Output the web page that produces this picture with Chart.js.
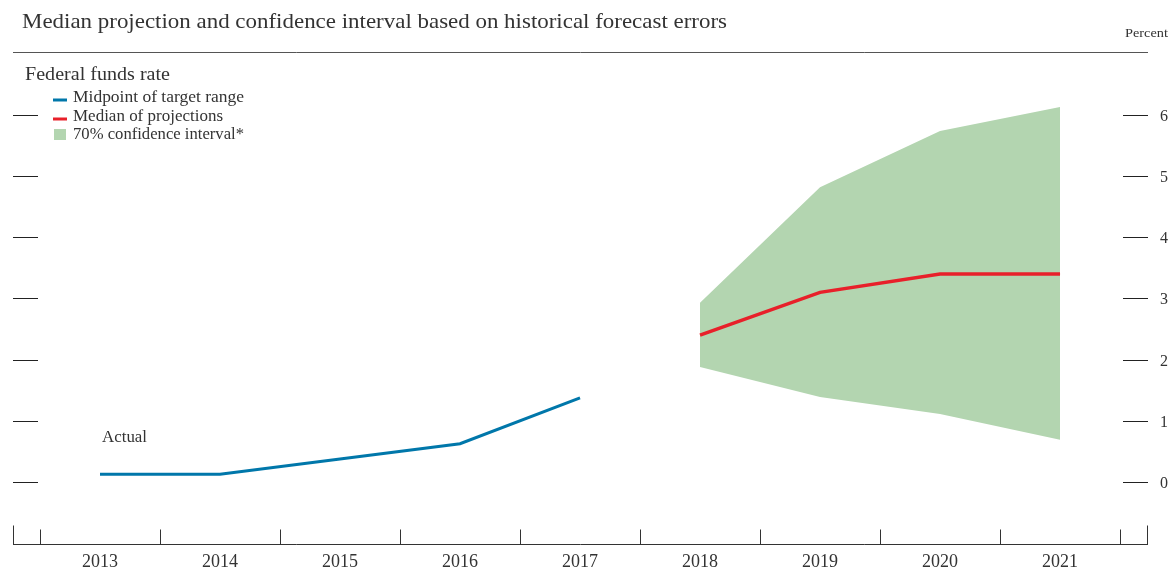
<!DOCTYPE html>
<html>
<head>
<meta charset="utf-8">
<script src="https://cdn.jsdelivr.net/npm/chart.js@4.4.1/dist/chart.umd.min.js"></script>
<style>
html,body{margin:0;padding:0;background:#fff;}
#wrap{width:1170px;height:569px;position:relative;}
</style>
</head>
<body>
<div id="wrap"><canvas id="c" width="1170" height="569"></canvas></div>
<script>
const years = [2013, 2014, 2015, 2016, 2017, 2018, 2019, 2020, 2021];
const actualYears = [2013, 2014, 2015, 2016, 2017];
const actualRate = [0.125, 0.125, 0.375, 0.625, 1.375];
const projYears = [2018, 2019, 2020, 2021];
const medianProj = [2.4, 3.1, 3.4, 3.4];
const ciUpper = [2.93, 4.82, 5.74, 6.13];
const ciLower = [1.88, 1.39, 1.11, 0.69];
const yTicks = [0, 1, 2, 3, 4, 5, 6];

const SERIF = '"Liberation Serif", "DejaVu Serif", serif';
const TXT = '#333';

const pts = (xs, ys) => xs.map((x, i) => ({x: x, y: ys[i]}));

// draw text with font size and horizontal stretch so it spans a target width
function fitText(ctx, text, x, y, size, width, align) {
  ctx.font = size + 'px ' + SERIF;
  const w = ctx.measureText(text).width;
  const s = width ? width / w : 1;
  ctx.save();
  ctx.textAlign = 'left';
  ctx.textBaseline = 'middle';
  let x0 = x;
  if (align === 'center') x0 = x - (w * s) / 2;
  ctx.translate(x0, y + 1);
  ctx.scale(s, 1);
  ctx.fillText(text, 0, 0);
  ctx.restore();
}

const decor = {
  id: 'decor',
  afterDraw(chart) {
    const ctx = chart.ctx;
    const xs = chart.scales.x, ys = chart.scales.y;
    const ca = chart.chartArea;
    ctx.save();
    ctx.fillStyle = TXT;
    fitText(ctx, 'Median projection and confidence interval based on historical forecast errors', 22, 21, 21, 705);
    fitText(ctx, 'Percent', 1125, 33, 12.5, 43);
    // rule
    ctx.strokeStyle = '#555';
    ctx.lineWidth = 1;
    ctx.beginPath(); ctx.moveTo(13, 52.5); ctx.lineTo(1148, 52.5); ctx.stroke();
    fitText(ctx, 'Federal funds rate', 25, 74, 19, 145);
    // legend
    const leg = [
      {t: 'Midpoint of target range', c: '#0077aa', y: 97, k: 'line', w: 171},
      {t: 'Median of projections', c: '#e8202a', y: 116, k: 'line', w: 150},
      {t: '70% confidence interval*', c: '#b3d5b0', y: 134, k: 'box', w: 171}
    ];
    leg.forEach(l => {
      if (l.k === 'line') {
        ctx.strokeStyle = l.c; ctx.lineWidth = 3;
        ctx.beginPath(); ctx.moveTo(53, l.y + 3); ctx.lineTo(67, l.y + 3); ctx.stroke();
      } else {
        ctx.fillStyle = l.c; ctx.fillRect(54, l.y - 5, 12, 11);
      }
      ctx.fillStyle = TXT;
      fitText(ctx, l.t, 73, l.y, 16.5, l.w);
    });
    // y ticks
    ctx.strokeStyle = '#222'; ctx.lineWidth = 1;
    yTicks.forEach(v => {
      const py = Math.round(ys.getPixelForValue(v)) + 0.5;
      ctx.beginPath(); ctx.moveTo(13, py); ctx.lineTo(38, py); ctx.stroke();
      ctx.beginPath(); ctx.moveTo(1123, py); ctx.lineTo(1148, py); ctx.stroke();
      ctx.fillStyle = TXT;
      fitText(ctx, String(v), 1160, py, 16);
    });
    // x axis
    const by = Math.round(ca.bottom) + 0.5;
    ctx.strokeStyle = '#333';
    ctx.beginPath(); ctx.moveTo(ca.left, by); ctx.lineTo(ca.right, by); ctx.stroke();
    ctx.beginPath(); ctx.moveTo(ca.left + 0.5, by - 19); ctx.lineTo(ca.left + 0.5, by); ctx.stroke();
    ctx.beginPath(); ctx.moveTo(ca.right - 0.5, by - 19); ctx.lineTo(ca.right - 0.5, by); ctx.stroke();
    for (let i = 0; i <= years.length; i++) {
      const px = Math.round(xs.getPixelForValue(years[0] - 0.5 + i)) + 0.5;
      ctx.beginPath(); ctx.moveTo(px, by - 15); ctx.lineTo(px, by); ctx.stroke();
    }
    ctx.fillStyle = TXT;
    years.forEach(yv => {
      fitText(ctx, String(yv), xs.getPixelForValue(yv), 561, 18, 36, 'center');
    });
    fitText(ctx, 'Actual', xs.getPixelForValue(2013) + 2, 437, 16, 45);
    ctx.restore();
  }
};

new Chart(document.getElementById('c'), {
  type: 'line',
  data: {
    datasets: [
      {data: pts(projYears, ciLower), borderWidth: 0, pointRadius: 0, fill: false, order: 3, backgroundColor: '#b3d5b0', borderColor: 'rgba(0,0,0,0)'},
      {data: pts(projYears, ciUpper), borderWidth: 0, pointRadius: 0, fill: '-1', order: 2, backgroundColor: '#b3d5b0', borderColor: 'rgba(0,0,0,0)'},
      {data: pts(actualYears, actualRate), borderColor: '#0077aa', borderWidth: 3, pointRadius: 0, fill: false, order: 1},
      {data: pts(projYears, medianProj), borderColor: '#e8202a', borderWidth: 3.5, pointRadius: 0, fill: false, order: 0}
    ]
  },
  options: {
    responsive: false,
    animation: false,
    layout: {padding: {left: 13, right: 22, top: 52, bottom: 25}},
    plugins: {legend: {display: false}, tooltip: {enabled: false}, title: {display: false}},
    scales: {
      x: {type: 'linear', display: false, min: 2012.275, max: 2021.733},
      y: {type: 'linear', display: false, min: -1.014, max: 7.03}
    },
    elements: {line: {tension: 0, borderCapStyle: 'butt'}}
  },
  plugins: [decor]
});
</script>
</body>
</html>
